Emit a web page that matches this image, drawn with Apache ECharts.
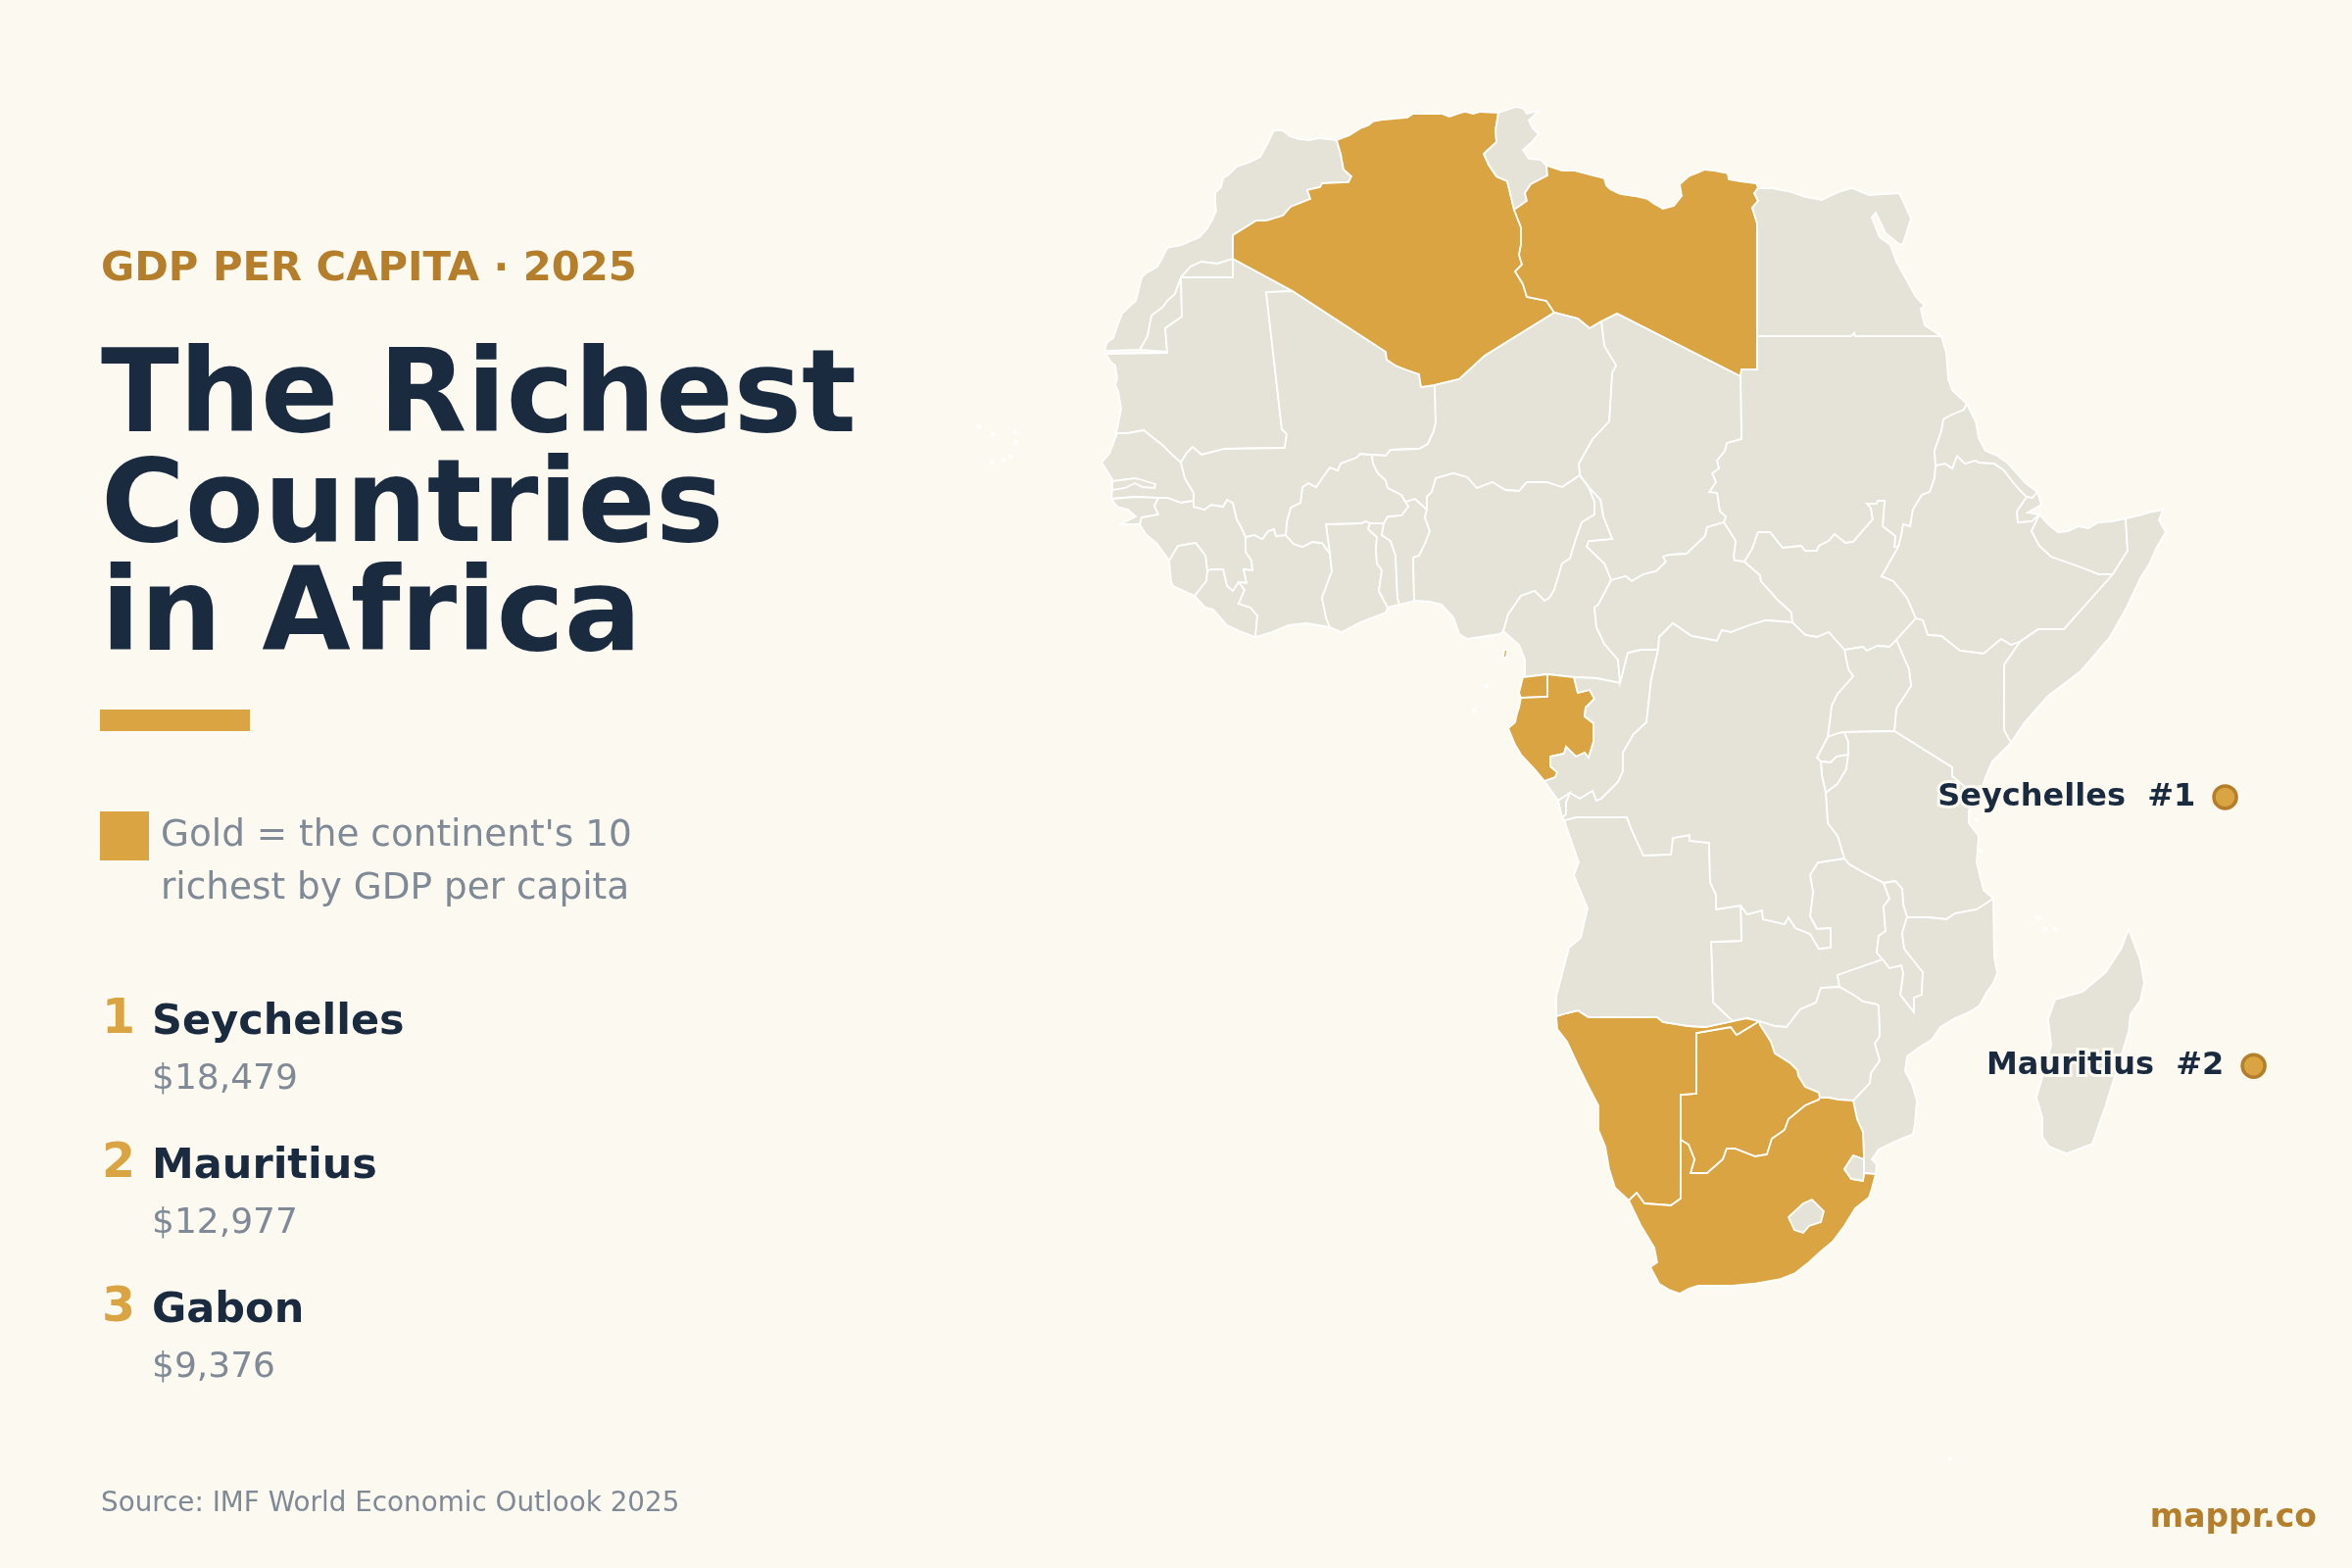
<!DOCTYPE html>
<html>
<head>
<meta charset="utf-8">
<title>The Richest Countries in Africa</title>
<script src="https://cdn.jsdelivr.net/npm/echarts@6/dist/echarts.min.js"></script>
<style>
    html, body { margin: 0; padding: 0; background: #fcf9f1; }
    #chart { width: 2400px; height: 1600px; }
</style>
</head>
<body>
<div id="chart"></div>
<script>
// 文字内容
var eyebrow = 'GDP PER CAPITA · 2025';
var titleLines = ['The Richest', 'Countries', 'in Africa'];
var legendLines = ["Gold = the continent's 10", 'richest by GDP per capita'];
var rankNames = ['Seychelles', 'Mauritius', 'Gabon'];
var rankValues = ['$18,479', '$12,977', '$9,376'];
var source = 'Source: IMF World Economic Outlook 2025';
var brand = 'mappr.co';

// 标记点：名称、经度、纬度
var markerNames = ['Seychelles  #1', 'Mauritius  #2'];
var markerLon = [55.26, 57.1];
var markerLat = [-4.6, -20.3];

var goldCountries = ['Algeria', 'Libya', 'Gabon', 'Equatorial Guinea', 'Namibia', 'Botswana', 'South Africa'];

// 等面积投影：x = lon * MAP_X, y = MAP_Y * sin(lat)
var MAP_X = 15.79;
var MAP_Y = 1028;

// 边界弧段，读自原图，单位为投影坐标（x1,y1,x2,y2...），相邻国家共用
const c_ma = [-34,588,-51,590,-62,588,-73,589,-82,592,-89,598,-98,598,-105,584,-112,571,-124,565,-136,561,-143,554,-150,549,-152,540,-158,534,-158,525,-157,516,-161,507,-166,498,-174,489,-181,486,-192,481,-207,478,-212,468,-217,459,-229,452,-233,448,-236,436,-239,424,-247,417,-253,411,-258,398,-262,386,-268,382,-270,378,-270,373];
const ma_ws1 = [-270,373,-235,374];
const ma_ws2 = [-235,374,-227,388,-223,409,-211,418,-207,424,-199,431,-193,448,-183,459,-172,464,-156,462,-140,467];
const ma_dz = [-140,467,-140,491,-116,506,-106,506,-89,511,-81,520,-61,528,-64,537,-51,540,-49,544,-22,545,-19,551,-27,558,-30,574,-34,588];
const ws_mr = [-140,467,-140,448,-193,448,-192,408,-209,396,-207,372];
const mr_n = [-207,371,-270,370];
const mr_coast = [-270,370,-264,361,-260,358,-258,345,-260,338,-257,332,-254,314,-257,298,-261,281];
const sn_mr = [-261,281,-258,289,-247,289,-231,292,-221,284,-211,276,-203,268,-193,259];
const mr_ml = [-79,434,-106,433,-90,293,-85,288,-87,274,-148,273,-172,267,-181,275,-187,269,-193,259];
const dz_mr = [-79,434,-140,467];
const sn_ml = [-193,259,-189,243,-180,228,-180,220];
const sn_coast = [-261,281,-266,268,-274,259,-268,250,-262,240,-263,231,-264,222];
const sn_gb = [-264,222,-239,224,-216,223];
const sn_gn = [-216,223,-207,223,-193,218,-180,220];
const gb_gn = [-216,223,-220,215,-216,206,-233,203,-235,196];
const gb_coast = [-235,196,-255,196,-239,204,-247,211,-258,214,-264,222];
const gn_coast = [-235,196,-229,186,-217,176,-205,159];
const gn_ml = [-180,220,-180,214,-169,211,-162,216,-150,214,-146,221,-140,218,-136,201,-132,194,-127,183];
const gn_ci = [-127,183,-127,168,-121,159,-120,149,-129,150,-126,136,-134,137];
const gn_lr = [-134,137,-140,128,-146,133,-150,150,-162,150,-166,148];
const gn_sl = [-166,148,-168,164,-178,177,-196,174,-205,159];
const sl_coast = [-205,159,-203,138,-201,133,-179,123];
const sl_lr = [-179,123,-167,138,-166,148];
const lr_coast = [-179,123,-168,111,-160,109,-146,93,-133,87,-117,81];
const lr_ci = [-117,81,-115,103,-122,111,-134,115,-128,129,-134,137];
const ci_coast = [-117,81,-100,86,-83,93,-65,95,-41,91];
const ci_gh = [-41,91,-45,101,-49,121,-39,148,-41,166];
const bf_ci = [-86,185,-78,176,-69,173,-59,178,-49,177,-41,166];
const ml_ci = [-127,183,-118,185,-110,181,-104,189,-98,191,-96,184,-86,185];
const gh_coast = [-41,91,-29,86,-10,96,16,106,18,111];
const gh_tg = [0,197,-2,191,7,183,6,171,7,156,12,149,9,128,18,111];
const bf_gh = [-41,166,-45,196,-10,197,-4,199,0,197];
const tg_coast = [18,111,30,114];
const tg_bj = [14,197,12,185,21,179,26,164,28,121,30,114];
const bf_tg = [0,197,14,197];
const bj_coast = [30,114,45,118];
const bj_ng = [58,211,56,203,61,189,56,176,50,164,44,162,45,118];
const bj_ne = [58,211,46,222,36,219,35,221];
const bf_bj = [14,197,18,204,32,205,39,214,35,221];
const bf_ml = [-86,185,-85,198,-81,213,-71,218,-69,234,-63,238,-55,234,-49,243,-41,254,-33,251,-30,258,-14,264,-10,268,2,267];
const bf_ne = [2,267,3,258,8,248,16,241,18,233,32,226,35,221];
const ml_ne = [2,267,16,266,21,272,50,273,59,278,65,291,67,300,66,338];
const dz_ml = [66,338,52,336,50,349,36,354,26,358,17,364,16,372,-79,434];
const dz_coast = [-34,588,-21,593,-10,600,-2,603,3,607,14,609,38,611,44,615,58,615,73,615,81,612,90,615,97,617,105,615,113,617,131,616];
const dz_tn = [131,616,128,598,129,586,116,574,121,563,129,551,140,546,147,517];
const dz_ly = [147,517,154,499,154,481,152,471,155,461,148,454,156,441,160,428,180,424,188,412];
const dz_ne = [188,412,117,368,91,344,66,338];
const tn_coast = [131,616,149,622,157,620,160,615,172,618,162,608,166,600,172,594,164,585,156,578,162,569,174,568,180,562];
const tn_ly = [180,562,181,552,164,543,158,534,160,526,147,517];
const ly_coast = [180,562,196,557,208,557,227,552,239,549,241,542,245,538,255,533,270,531,283,528,290,523,299,518,310,521,318,531,316,543,325,551,342,558,350,557,365,554,366,548,378,546,394,544,396,539];
const ly_eg = [396,539,392,534,396,526,390,519,395,503,395,388];
const ly_sd = [395,388,395,354,379,354,378,347];
const ly_td = [378,347,252,411,236,403];
const ly_ne = [236,403,224,396,212,406,188,412];
const eg_coast = [396,539,409,539,430,535,444,530,461,527,478,535,492,539,509,532,540,534,552,508,544,483,541,481,526,493,516,514,512,509,520,489,531,481,537,464,557,428,566,419,562,416,566,399,583,388];
const eg_sd = [583,388,495,388,494,391,491,388,395,388];
const sd_coast = [583,388,588,371,590,344,594,333,609,319];
const sd_er = [609,319,606,313,594,308,585,303,583,291,576,271,577,256];
const sd_et = [577,256,576,243,571,229,563,226,554,211,551,194,544,196,542,184,539,173];
const sd_ss = [382,158,390,171,396,188,408,188,421,172,440,174,444,169,456,169,458,174,468,179,474,186,485,177,493,178,504,191,513,201,511,213,507,217,517,217,518,220,525,220,523,194,536,184,535,173,539,173];
const sd_cf = [382,158,372,159,371,163,373,179,361,198];
const sd_td = [361,198,363,204,357,209,354,228,346,229,353,239,349,248,356,253,354,261,362,271,364,279,379,283,378,347];
const td_cf = [361,198,344,193,342,184,323,166,306,165,299,163,302,158,292,148,279,145,267,138,261,143,246,139];
const td_cm = [246,139,239,156,221,173,223,179,247,181,238,204,235,221,223,234,214,246];
const td_ne = [214,246,213,258,227,283,244,301,247,351,251,358,239,378,236,403];
const ne_ng = [214,246,196,234,180,239,160,239,152,230,138,231,125,239,109,233,99,244,85,248,67,243,63,229,58,224,58,211];
const ng_coast = [45,118,61,117,73,114,85,101,91,84,99,79,133,84,136,87];
const ng_cm = [136,87,141,104,154,123,168,128,178,118,183,121,188,129,196,156,204,161,210,181,216,198,229,206,229,219,223,234,214,246];
const cm_coast = [136,87,152,73,158,58,158,42,156,40];
const cm_gq = [156,40,181,43];
const cm_ga = [181,43,208,40];
const cm_cg = [208,40,231,39,255,34];
const cm_cf = [255,34,253,58,239,74,231,91,229,111,233,114,246,139];
const gq_ga = [181,43,181,20,154,19];
const gq_coast = [154,19,152,24,156,40];
const ga_cg = [208,40,212,24,224,27,229,18,220,9,219,0,228,-7,228,-26,223,-42,219,-37,210,-41,200,-31,198,-38,184,-41,184,-51,191,-57,189,-62,178,-66];
const ga_coast = [178,-66,168,-54,154,-39,148,-29,141,-12,148,-6,150,3,152,9,154,19];
const cg_cf = [255,34,263,65,276,68,294,68];
const cg_cd = [294,68,287,38,282,-6,269,-18,258,-37,258,-56,253,-67,236,-84,231,-86,227,-76,214,-84,204,-78];
const cg_cab = [204,-78,192,-86];
const cg_coast = [192,-86,178,-66];
const cf_ss = [382,158,398,144,399,138,416,119,430,106,431,96];
const cf_cd = [431,96,404,98,387,93,368,86,359,88,354,77,328,82,309,95,295,81,294,68];
const ss_et = [539,173,538,171,522,143,534,138,548,121,557,100];
const ss_ke = [557,100,537,78];
const ss_ug = [537,78,530,71,518,72,507,67,503,71,491,69,484,68];
const ss_cd = [484,68,468,86,456,81,444,83,431,96];
const er_et = [577,256,587,258,594,253,599,266,607,258,618,261,621,259,637,258,647,251,656,239,663,231,670,224];
const er_dj = [670,224,676,223,681,229];
const er_coast = [609,319,618,301,621,284,628,271,640,266,650,259,659,249,669,238,681,229];
const dj_et = [670,224,660,209,661,198,675,199,683,206];
const dj_coast = [683,206,671,208,685,216,681,229];
const et_sl = [683,206,675,189,683,174,695,163,726,152,744,145,758,145];
const et_so = [758,145,708,89,682,89,663,76];
const et_ke = [663,76,654,73,644,79,626,64,602,67,583,82,569,83,564,98,557,100];
const sl_coast2 = [683,206,692,196,702,188,712,189,723,194,733,192,743,198,757,199,771,202];
const sl_so = [771,202,773,169,758,145];
const so_coast = [771,202,785,205,799,209,809,211,805,200,812,188,802,171,795,155,786,141,772,111,755,81,725,46,708,33,692,21,668,-6,654,-27];
const ke_so = [654,-27,647,-14,647,53,663,76];
const ke_coast = [654,-27,645,-36,635,-46,628,-62,621,-84];
const ke_tz = [621,-84,594,-61,594,-52,535,-15];
const ke_ug = [535,-15,537,8,552,31,550,48,543,64,537,78];
const ug_tz = [535,-15,484,-16];
const ug_rw = [484,-16,478,-17,467,-21];
const ug_cd = [467,-21,471,11,477,23,493,41,488,48,484,68];
const rw_tz = [484,-16,488,-26,488,-39];
const rw_bi = [488,-39,476,-41,470,-47,460,-46];
const rw_cd = [460,-46,456,-42,467,-21];
const bi_tz = [488,-39,486,-54,477,-69,465,-78];
const bi_cd = [465,-78,461,-60,460,-46];
const tz_coast = [621,-84,611,-96,611,-109,621,-122,619,-149,626,-177,636,-186];
const tz_mz = [636,-186,619,-197,597,-201,588,-207,569,-205,548,-205];
const tz_mw = [548,-205,544,-192,543,-176,536,-168,524,-170];
const tz_zm = [524,-170,503,-159,489,-151,484,-145];
const tz_cd = [484,-145,477,-122,467,-109,465,-78];
const cd_zm = [378,-193,385,-202,400,-198,401,-207,423,-212,427,-205,434,-216,449,-222,458,-237,470,-236,470,-216,456,-217,449,-204,452,-179,449,-162,457,-149,484,-145];
const mw_zm = [524,-170,530,-186,524,-194,526,-219,519,-224,517,-241,523,-248];
const zm_mz = [523,-248,477,-264,479,-276];
const zm_zw = [479,-276,460,-277,455,-292,439,-299,425,-317,413,-316,397,-311];
const zm_na = [397,-311,384,-308,370,-311];
const ao_zm = [370,-311,350,-292,348,-230,379,-229,378,-193];
const mw_mz = [548,-205,543,-221,545,-237,564,-261,563,-284,555,-287,555,-302,541,-284,544,-262,542,-254,530,-257,523,-248];
const mz_coast = [636,-186,637,-246,640,-262,636,-272,629,-282,622,-295,613,-301,597,-308,582,-317,573,-330,560,-338,548,-347,546,-362,553,-375,558,-392,556,-416,554,-426,535,-434,519,-442,512,-452,517,-457,516,-467];
const za_mz = [516,-467,504,-466];
const sz_mz = [504,-466,504,-452];
const za_mz2 = [504,-452,503,-424,497,-411,493,-392];
const mz_zw = [493,-392,510,-374,511,-364,520,-351,515,-334,520,-326,519,-296,518,-294,503,-291,493,-284,479,-276];
const za_zw = [493,-392,478,-391,468,-389,459,-389];
const bw_zw = [459,-389,458,-384,444,-378,437,-367,436,-361,429,-354,413,-344,409,-332,398,-315,397,-311];
const bw_za = [459,-389,458,-391,444,-397,427,-411,423,-422,410,-431,405,-447,393,-449,372,-441,364,-441,360,-452,344,-466,327,-466,331,-452,325,-437,317,-432];
const bw_na = [317,-432,317,-386,333,-385,333,-323,368,-317,374,-325,389,-316,397,-311];
const ao_na = [190,-306,200,-303,212,-300,223,-307,293,-307,299,-312,325,-316,342,-317,370,-311];
const na_za = [317,-432,317,-492,307,-499,280,-497,272,-486,264,-494];
const na_coast = [264,-494,250,-481,244,-462,240,-439,233,-422,233,-397,225,-382,215,-362,201,-332,191,-319,190,-306];
const sz_za = [504,-452,493,-448,484,-462,491,-472,503,-474,504,-466];
const za_coast = [516,-467,512,-482,509,-491,495,-502,484,-520,472,-536,460,-546,448,-557,434,-568,419,-574,391,-579,370,-581,350,-581,335,-581,325,-584,316,-589,305,-585,295,-579,286,-562,293,-557,290,-542,276,-519,264,-494];
const ao_coast = [198,-106,213,-149,208,-162,222,-196,215,-226,203,-236,190,-286,190,-306];
const ao_cd = [378,-193,353,-197,353,-182,347,-169,346,-129,326,-127,326,-121,309,-124,307,-141,279,-142,267,-116,262,-103,210,-103,198,-106];
const cd_cab = [204,-78,200,-88,200,-100,196,-103];
const cd_coast = [196,-103,198,-106];
const cab_coast = [192,-86,196,-103];

// 独立小块
const lesotho = [427,-511,442,-497,451,-493,463,-505,460,-516,448,-520,442,-527,433,-524];
const gambia = [-263,240,-240,243,-232,241,-219,237,-220,233,-232,234,-240,238,-250,233,-263,231];
const madagascar = [774,-217,767,-236,751,-261,727,-281,699,-289,692,-309,695,-336,680,-389,686,-409,686,-429,693,-439,711,-446,737,-436,750,-399,774,-322,776,-304,786,-290,790,-272,786,-249];
const bioko = [136,60,139,60,140,68,137,68];
// 小岛：佛得角、圣多美、科摩罗、桑给巴尔等
const isletX = [-399,-385,-362,-361,-367,-374,-386,119,106,682,689,699,619,623,592];
const isletY = [296,288,290,280,265,262,259,31,6,-206,-217,-217,-106,-137,-758];

function toLonLat(x, y) {
    return [x / MAP_X, Math.asin(y / MAP_Y) * 180 / Math.PI];
}
// 弧段反向
function rev(arc) {
    var out = [];
    for (let i = arc.length - 2; i >= 0; i -= 2) {
        out.push(arc[i], arc[i + 1]);
    }
    return out;
}
// 把若干弧段拼成一个闭合环
function ring() {
    var out = [];
    for (let k = 0; k < arguments.length; k++) {
        var arc = arguments[k];
        for (let i = 0; i < arc.length; i += 2) {
            out.push(toLonLat(arc[i], arc[i + 1]));
        }
    }
    out.push(out[0]);
    return out;
}

function getCountries() {
    return [
        ['Morocco', [ring(c_ma, ma_ws1, ma_ws2, ma_dz)]],
        ['Western Sahara', [ring(ma_ws2, ws_mr)]],
        ['Mauritania', [ring(ws_mr, mr_n, mr_coast, sn_mr, rev(mr_ml), dz_mr)]],
        ['Senegal', [ring(sn_coast, sn_gb, sn_gn, rev(sn_ml), rev(sn_mr))]],
        ['Gambia', [ring(gambia)]],
        ['Guinea-Bissau', [ring(sn_gb, gb_gn, gb_coast)]],
        ['Guinea', [ring(sn_gn, gn_ml, gn_ci, gn_lr, gn_sl, rev(gn_coast), rev(gb_gn))]],
        ['Sierra Leone', [ring(gn_sl, sl_coast, sl_lr)]],
        ['Liberia', [ring(lr_coast, lr_ci, gn_lr, rev(sl_lr))]],
        ["Cote d'Ivoire", [ring(ci_coast, ci_gh, rev(bf_ci), rev(ml_ci), gn_ci, rev(lr_ci))]],
        ['Ghana', [ring(gh_coast, rev(gh_tg), rev(bf_gh), rev(ci_gh))]],
        ['Togo', [ring(gh_tg, tg_coast, rev(tg_bj), rev(bf_tg))]],
        ['Benin', [ring(tg_bj, bj_coast, rev(bj_ng), bj_ne, rev(bf_bj))]],
        ['Burkina Faso', [ring(bf_ml, bf_ne, rev(bf_bj), rev(bf_tg), rev(bf_gh), rev(bf_ci))]],
        ['Mali', [ring(dz_ml, mr_ml, sn_ml, gn_ml, ml_ci, bf_ml, ml_ne)]],
        ['Algeria', [ring(dz_coast, dz_tn, dz_ly, dz_ne, dz_ml, dz_mr, ma_dz)]],
        ['Tunisia', [ring(tn_coast, tn_ly, rev(dz_tn))]],
        ['Libya', [ring(ly_coast, ly_eg, ly_sd, ly_td, ly_ne, rev(dz_ly), rev(tn_ly))]],
        ['Egypt', [ring(eg_coast, eg_sd, rev(ly_eg))]],
        ['Sudan', [ring(rev(eg_sd), sd_coast, sd_er, sd_et, rev(sd_ss), sd_cf, sd_td, rev(ly_sd))]],
        ['Chad', [ring(rev(sd_td), td_cf, td_cm, td_ne, rev(ly_td))]],
        ['Niger', [ring(ne_ng, bj_ne, rev(bf_ne), ml_ne, rev(dz_ne), rev(ly_ne), rev(td_ne))]],
        ['Nigeria', [ring(ne_ng, bj_ng, ng_coast, ng_cm)]],
        ['Cameroon', [ring(rev(ng_cm), cm_coast, cm_gq, cm_ga, cm_cg, cm_cf, td_cm)]],
        ['Equatorial Guinea', [ring(cm_gq, gq_ga, gq_coast)], [ring(bioko)]],
        ['Gabon', [ring(cm_ga, ga_cg, ga_coast, rev(gq_ga))]],
        ['Congo', [ring(cm_cg, cg_cf, cg_cd, cg_cab, cg_coast, rev(ga_cg))]],
        ['Central African Republic', [ring(cm_cf, rev(td_cf), rev(sd_cf), cf_ss, cf_cd, rev(cg_cf))]],
        ['South Sudan', [ring(sd_ss, ss_et, ss_ke, ss_ug, ss_cd, rev(cf_ss))]],
        ['Ethiopia', [ring(rev(sd_et), er_et, dj_et, et_sl, et_so, et_ke, rev(ss_et))]],
        ['Eritrea', [ring(sd_er, er_et, er_dj, rev(er_coast))]],
        ['Djibouti', [ring(dj_et, dj_coast, rev(er_dj))]],
        ['Somaliland', [ring(sl_coast2, sl_so, rev(et_sl))]],
        ['Somalia', [ring(so_coast, ke_so, rev(et_so), rev(sl_so))]],
        ['Kenya', [ring(rev(et_ke), rev(ke_so), ke_coast, ke_tz, ke_ug, rev(ss_ke))]],
        ['Uganda', [ring(rev(ke_ug), ug_tz, ug_rw, ug_cd, rev(ss_ug))]],
        ['Rwanda', [ring(rev(ug_rw), rw_tz, rw_bi, rw_cd)]],
        ['Burundi', [ring(rev(rw_bi), bi_tz, bi_cd)]],
        ['Tanzania', [ring(rev(ug_tz), rev(ke_tz), tz_coast, tz_mz, tz_mw, tz_zm, tz_cd, rev(bi_tz), rev(rw_tz))]],
        ['Zambia', [ring(cd_zm, rev(tz_zm), mw_zm, zm_mz, zm_zw, zm_na, ao_zm)]],
        ['Malawi', [ring(rev(tz_mw), mw_mz, rev(mw_zm))]],
        ['Mozambique', [ring(rev(tz_mz), mz_coast, za_mz, sz_mz, za_mz2, mz_zw, rev(zm_mz), rev(mw_mz))]],
        ['Zimbabwe', [ring(rev(zm_zw), rev(mz_zw), za_zw, bw_zw)]],
        ['Botswana', [ring(rev(bw_zw), bw_za, bw_na)]],
        ['Namibia', [ring(ao_na, rev(zm_na), rev(bw_na), na_za, na_coast)]],
        ['South Africa', [ring(rev(na_za), rev(bw_za), rev(za_zw), rev(za_mz2), sz_za, rev(za_mz), za_coast)]],
        ['Eswatini', [ring(sz_za, sz_mz)]],
        ['Lesotho', [ring(lesotho)]],
        ['Angola', [ring(ao_coast, ao_na, ao_zm, ao_cd)], [ring(cg_cab, cab_coast, rev(cd_cab))]],
        ['DR Congo', [ring(cf_cd, cg_cd, cd_cab, cd_coast, rev(ao_cd), cd_zm, tz_cd, bi_cd, rw_cd, ug_cd, ss_cd)]],
        ['Madagascar', [ring(madagascar)]]
    ];
}

window.onload = function () {
    initChart();
}

// 组装 GeoJSON
function getGeoJson() {
    var features = getCountries().map(function (item) {
        return {
            type: 'Feature',
            properties: { name: item[0] },
            geometry: { type: 'MultiPolygon', coordinates: item.slice(1) }
        };
    });
    // 小岛只露出白色描边
    for (let i = 0; i < isletX.length; i++) {
        var x = isletX[i], y = isletY[i];
        features.push({
            type: 'Feature',
            properties: { name: 'islet' + i },
            geometry: { type: 'Polygon', coordinates: [ring([x - 1, y - 1, x + 1, y - 1, x + 1, y + 1, x - 1, y + 1])] }
        });
    }
    return { type: 'FeatureCollection', features: features };
}

function text(str, x, y, size, weight, color, align) {
    return {
        type: 'text',
        silent: true,
        style: {
            text: str,
            x: x,
            y: y,
            fill: color,
            align: align || 'left',
            verticalAlign: 'middle',
            font: weight + ' ' + size + 'px "DejaVu Sans"'
        }
    };
}

function getGraphic() {
    var gold = '#d9a441', goldDark = '#b47e2a', navy = '#1a2a3f', grey = '#7f8a96';
    var els = [];
    els.push(text(eyebrow, 103, 275, 41.7, 'bold', goldDark));
    titleLines.forEach(function (line, i) {
        els.push(text(line, 103, 410 + i * 111.5, 117, 'bold', navy));
    });
    els.push({ type: 'rect', silent: true, shape: { x: 102, y: 724, width: 153, height: 22 }, style: { fill: gold } });
    els.push({ type: 'rect', silent: true, shape: { x: 102, y: 828, width: 50, height: 50 }, style: { fill: gold } });
    legendLines.forEach(function (line, i) {
        els.push(text(line, 164, 853 + i * 54, 37.4, 'normal', grey));
    });
    rankNames.forEach(function (name, i) {
        var dy = i * 147;
        els.push(text(String(i + 1), 104, 1041 + dy, 49, 'bold', gold));
        els.push(text(name, 155, 1044 + dy, 43, 'bold', navy));
        els.push(text(rankValues[i], 155, 1102 + dy, 36, 'normal', grey));
    });
    els.push(text(source, 103, 1535, 27.8, 'normal', grey));
    els.push(text(brand, 2364, 1549, 33, 'bold', goldDark, 'right'));
    return els;
}

function initChart() {
    echarts.registerMap('africa', getGeoJson());
    var bg = '#fcf9f1';
    var chart = echarts.init(document.getElementById('chart'));
    chart.setOption({
        animation: false,
        backgroundColor: bg,
        geo: {
            map: 'africa',
            silent: true,
            roam: false,
            left: 1082.2,
            top: 70.2,
            width: 1263.2,
            height: 1321.6,
            boundingCoords: [[-20, 40], [60, -40]],
            projection: {
                project: function (p) {
                    return [p[0] * MAP_X, -MAP_Y * Math.sin(p[1] * Math.PI / 180)];
                },
                unproject: function (p) {
                    return [p[0] / MAP_X, -Math.asin(p[1] / MAP_Y) * 180 / Math.PI];
                }
            },
            itemStyle: { areaColor: '#e5e2d8', borderColor: '#ffffff', borderWidth: 1.8 },
            label: { show: false },
            regions: goldCountries.map(function (name) {
                return { name: name, itemStyle: { areaColor: '#d9a441' } };
            })
        },
        series: [{
            type: 'scatter',
            coordinateSystem: 'geo',
            silent: true,
            symbolSize: 23,
            itemStyle: { color: '#d9a441', borderColor: '#b47e2a', borderWidth: 3.5, opacity: 1 },
            label: {
                show: true,
                position: 'left',
                distance: 17,
                formatter: '{b}',
                fontFamily: 'DejaVu Sans',
                fontWeight: 'bold',
                fontSize: 32,
                color: '#1a2a3f',
                textBorderColor: bg,
                textBorderWidth: 6
            },
            data: markerNames.map(function (name, i) {
                return { name: name, value: [markerLon[i], markerLat[i]] };
            })
        }],
        graphic: getGraphic()
    });
}
</script>
</body>
</html>
